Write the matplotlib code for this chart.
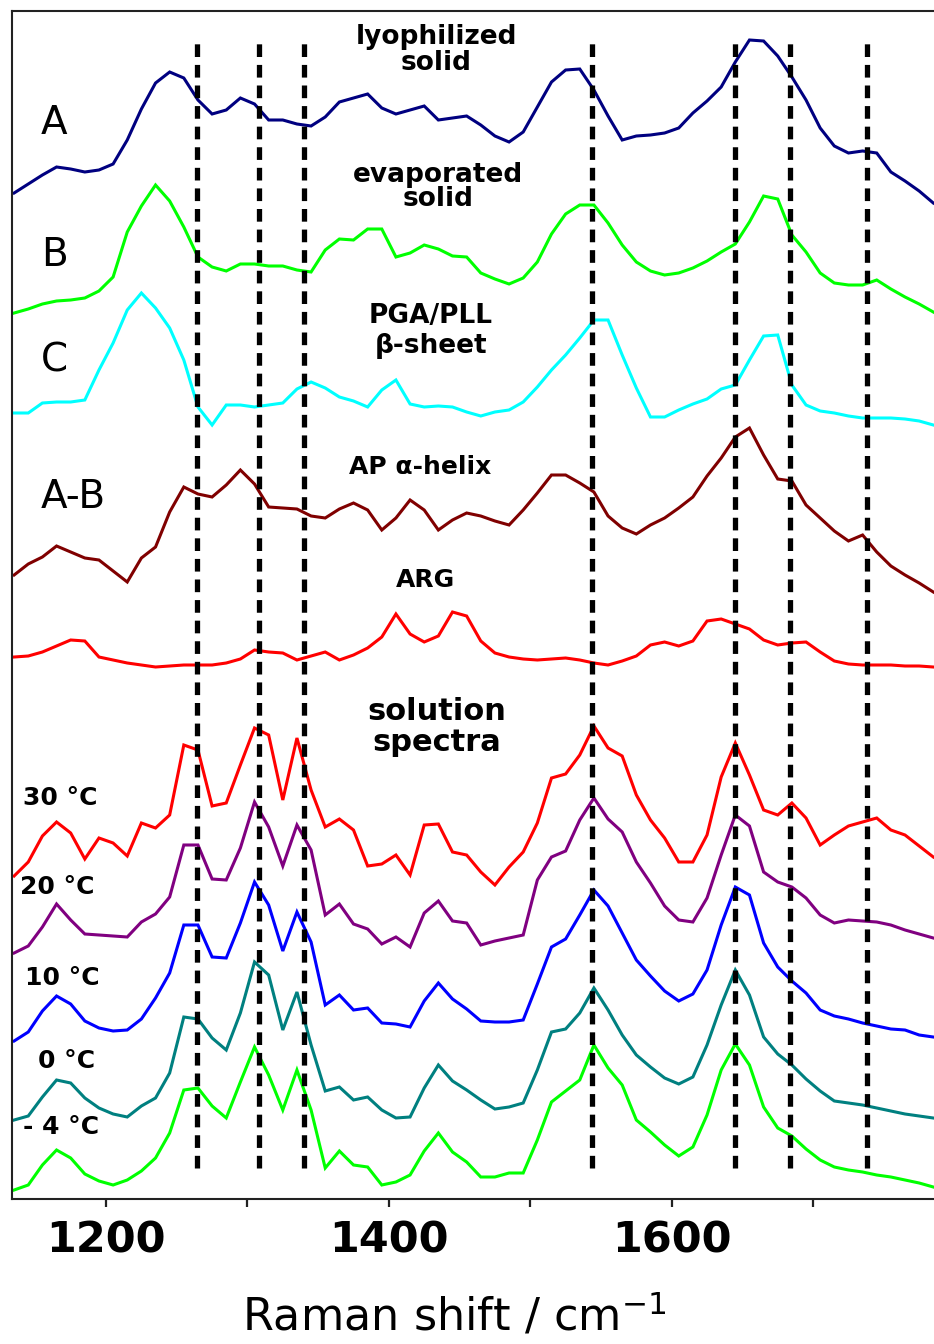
import matplotlib
matplotlib.use("Agg")
import matplotlib.pyplot as plt
from matplotlib.ticker import FixedLocator

# Raman shift grid (cm-1)
wavenumber = [1135, 1145, 1155, 1165, 1175, 1185, 1195, 1205, 1215, 1225,
              1235, 1245, 1255, 1265, 1275, 1285, 1295, 1305, 1315, 1325,
              1335, 1345, 1355, 1365, 1375, 1385, 1395, 1405, 1415, 1425,
              1435, 1445, 1455, 1465, 1475, 1485, 1495, 1505, 1515, 1525,
              1535, 1545, 1555, 1565, 1575, 1585, 1595, 1605, 1615, 1625,
              1635, 1645, 1655, 1665, 1675, 1685, 1695, 1705, 1715, 1725,
              1735, 1745, 1755, 1765, 1775, 1785]

# relative intensities (arbitrary units)
spec_A = [17, 26, 35, 43, 41, 38, 40, 46, 70, 101, 127, 138, 132, 110, 96, 100, 112, 106, 90, 90,
          86, 84, 93, 108, 112, 116, 102, 96, 100, 104, 90, 92, 94, 85, 74, 68, 78, 103, 128, 140,
          141, 120, 94, 70, 74, 75, 77, 82, 97, 109, 123, 148, 170, 169, 154, 133, 110, 82, 64, 57,
          59, 57, 38, 29, 19, 7]
spec_B = [7, 11, 16, 19, 20, 22, 29, 43, 88, 114, 135, 119, 93, 63, 53, 49, 56, 56, 54, 54,
          50, 48, 70, 81, 80, 91, 91, 63, 67, 75, 71, 64, 63, 47, 41, 36, 42, 58, 86, 106,
          115, 115, 97, 75, 58, 49, 45, 47, 52, 59, 68, 76, 98, 124, 121, 85, 68, 47, 37, 35,
          35, 40, 31, 23, 16, 8]
spec_C = [17, 17, 27, 28, 28, 30, 60, 87, 120, 137, 122, 102, 70, 23, 5, 25, 25, 23, 25, 27,
          41, 48, 42, 33, 29, 23, 40, 50, 26, 23, 24, 23, 18, 14, 18, 20, 28, 43, 60, 75,
          92, 110, 110, 75, 42, 13, 13, 20, 26, 31, 41, 45, 70, 94, 95, 45, 25, 19, 17, 14,
          12, 12, 12, 11, 9, 5]
spec_AB = [25, 36, 43, 54, 48, 42, 40, 29, 18, 42, 53, 88, 113, 106, 103, 115, 130, 116, 93, 92,
           91, 84, 82, 91, 97, 90, 70, 82, 100, 90, 70, 80, 87, 84, 79, 75, 90, 107, 125, 125,
           117, 108, 84, 72, 66, 75, 82, 92, 103, 124, 142, 163, 172, 145, 121, 119, 95, 82, 69, 59,
           65, 48, 34, 25, 17, 8]
spec_ARG = [13, 14, 18, 24, 30, 29, 13, 10, 7, 5, 3, 4, 5, 5, 5, 7, 11, 20, 18, 17,
            10, 14, 18, 10, 15, 22, 33, 56, 36, 28, 34, 58, 54, 29, 17, 13, 11, 10, 11, 12,
            10, 7, 5, 9, 14, 25, 28, 24, 29, 49, 51, 46, 41, 30, 25, 27, 28, 18, 9, 6,
            5, 5, 5, 4, 4, 3]
spec_30C = [14, 28, 54, 68, 57, 31, 52, 47, 34, 67, 62, 75, 145, 140, 84, 87, 125, 162, 155, 90,
            152, 100, 63, 71, 60, 24, 26, 35, 15, 65, 66, 38, 35, 18, 5, 23, 38, 67, 112, 116,
            135, 164, 142, 134, 95, 70, 52, 28, 28, 55, 113, 147, 115, 80, 75, 87, 72, 45, 55, 64,
            68, 72, 60, 55, 44, 33]
spec_20C = [2, 9, 28, 51, 35, 21, 20, 19, 18, 33, 41, 58, 110, 110, 76, 75, 107, 153, 128, 89,
            130, 105, 40, 51, 31, 26, 11, 18, 8, 42, 54, 34, 32, 10, 14, 17, 20, 75, 98, 104,
            135, 157, 136, 123, 93, 72, 49, 35, 33, 57, 100, 140, 129, 83, 73, 68, 57, 40, 32, 35,
            34, 33, 30, 25, 21, 17]
spec_10C = [4, 13, 34, 49, 41, 24, 17, 14, 15, 26, 47, 72, 120, 120, 88, 87, 122, 163, 140, 94,
            133, 103, 40, 50, 35, 37, 22, 21, 18, 44, 62, 46, 36, 24, 23, 23, 25, 61, 98, 106,
            130, 155, 139, 112, 85, 69, 54, 44, 51, 75, 120, 158, 150, 102, 78, 64, 52, 35, 29, 26,
            22, 19, 16, 15, 10, 8]
spec_0C = [5, 9, 28, 45, 42, 27, 17, 11, 8, 19, 27, 52, 108, 106, 87, 75, 112, 163, 150, 95,
           133, 80, 34, 38, 25, 28, 15, 7, 8, 37, 60, 44, 35, 25, 16, 18, 22, 55, 93, 96,
           112, 137, 115, 90, 70, 58, 47, 41, 48, 80, 120, 155, 130, 88, 71, 60, 46, 34, 24, 22,
           20, 17, 14, 11, 9, 7]
spec_m4C = [5, 10, 30, 45, 37, 21, 14, 10, 15, 24, 37, 62, 105, 107, 89, 77, 113, 148, 120, 85,
            125, 85, 27, 44, 30, 28, 10, 13, 20, 44, 62, 43, 33, 18, 18, 22, 22, 55, 93, 104,
            115, 150, 127, 110, 75, 63, 50, 39, 48, 80, 125, 151, 130, 88, 67, 59, 46, 35, 28, 25,
            23, 20, 18, 15, 12, 8]

band_positions = [1264, 1308, 1340, 1544, 1645, 1684, 1738]

spectra = [spec_A, spec_B, spec_C, spec_AB, spec_ARG,
           spec_30C, spec_20C, spec_10C, spec_0C, spec_m4C]
offsets = [989, 879, 769, 599, 529, 309, 244, 154, 74, 4]
colors = ['#000080', '#00ff00', '#00ffff', '#800000', '#ff0000',
          '#ff0000', '#800080', '#0000ff', '#008080', '#00ff00']

fig = plt.figure(figsize=(9.34, 13.44), dpi=100)
ax = fig.add_axes([12 / 934, 1 - 1199 / 1344, 922 / 934, 1188 / 1344])

for s, off, c in zip(spectra, offsets, colors):
    ax.plot(wavenumber, [v + off for v in s], color=c, lw=2.2, solid_joinstyle='miter')

ax.vlines(band_positions, 31, 1161, colors='black', lw=3.8,
          linestyles=(0, (2.4, 1.5)))

ax.set_xlim(1133.5, 1785.5)
ax.set_ylim(0, 1188)

ax.xaxis.set_major_locator(FixedLocator([1200, 1400, 1600]))
ax.xaxis.set_minor_locator(FixedLocator([1300, 1500, 1700]))
ax.tick_params(axis='x', which='both', direction='out', length=6, width=1.6,
               colors='#222222', pad=9)
ax.tick_params(axis='x', which='major', labelsize=31, labelcolor='black')
for lab in ax.get_xticklabels():
    lab.set_fontweight('bold')
ax.set_yticks([])
ax.spines['right'].set_visible(False)
for sp in ['left', 'top', 'bottom']:
    ax.spines[sp].set_linewidth(1.5)
    ax.spines[sp].set_color('#222222')

ax.set_xlabel('Raman shift / cm$^{\\mathregular{-1}}$', fontsize=32)
ax.xaxis.set_label_coords(0.48, -0.1105)
ax.xaxis.label.set_va('baseline')

# big panel letters
for txt, y in [('A', 1076), ('B', 944), ('C', 838), ('A-B', 702)]:
    ax.text(1154.0, y, txt, fontsize=28, ha='left', va='center')

bold = dict(fontweight='bold', ha='center', va='center', multialignment='center')
ax.text(1433.4, 1149, 'lyophilized\nsolid', fontsize=19, linespacing=1.0, **bold)
ax.text(1434.8, 1012, 'evaporated\nsolid', fontsize=19, linespacing=0.95, **bold)
ax.text(1429.8, 868, 'PGA/PLL\nβ-sheet', fontsize=19, linespacing=1.2, **bold)
ax.text(1422.0, 732, 'AP α-helix', fontsize=18, **bold)
ax.text(1425.6, 619, 'ARG', fontsize=18, **bold)
ax.text(1434.1, 472, 'solution\nspectra', fontsize=22, linespacing=1.05, **bold)

for txt, x, y in [('30 °C', 1141.3, 401), ('20 °C', 1139.2, 312), ('10 °C', 1142.7, 221),
                  ('0 °C', 1151.9, 138), ('- 4 °C', 1141.3, 72)]:
    ax.text(x, y, txt, fontsize=18, fontweight='bold', ha='left', va='center')

fig.savefig('out.png', dpi=100)
